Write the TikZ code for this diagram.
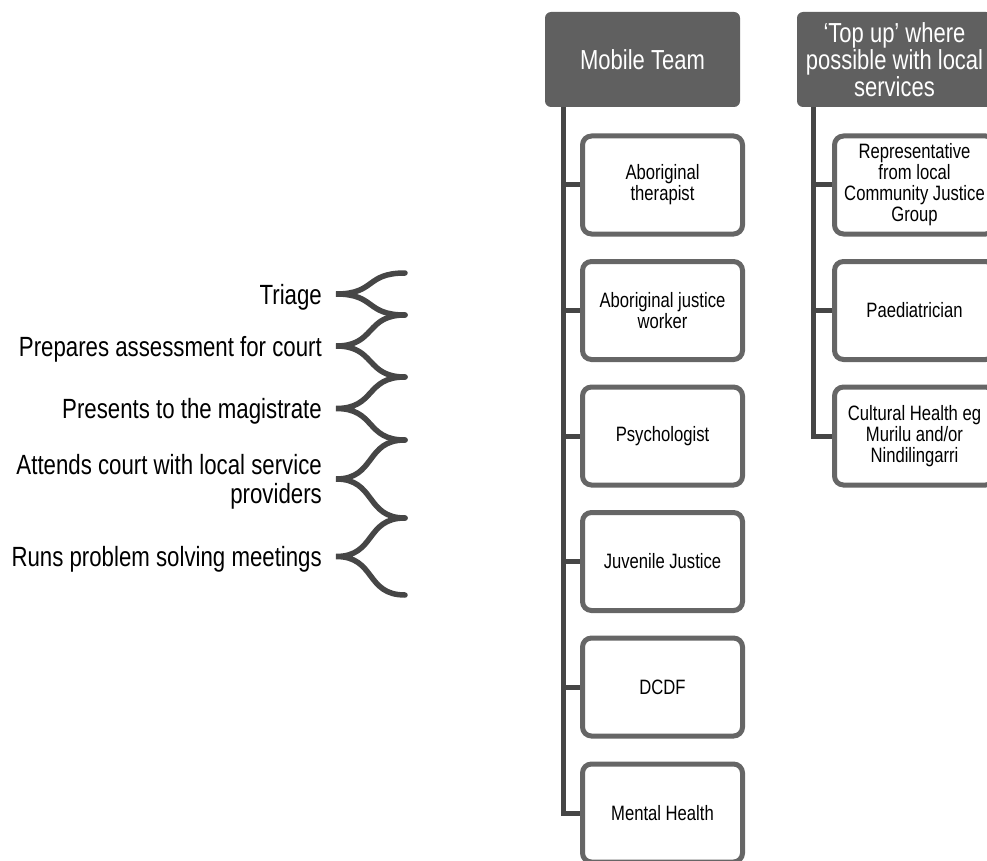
\documentclass[tikz,border=0pt]{standalone}
\usepackage{fontspec}
\setmainfont{Liberation Sans}[FakeStretch=0.8]
\usepackage{tikz}

\definecolor{headgrey}{HTML}{606060}
\definecolor{boxgrey}{HTML}{666666}
\definecolor{linegrey}{HTML}{464646}

\begin{document}
\begin{tikzpicture}[x=1pt,y=-1pt]
            \tikzstyle{head}=[rectangle,rounded corners=6pt,fill=headgrey,text=white,minimum width=195pt,minimum height=95pt,inner sep=0pt,align=center,font=\fontsize{27.5}{27}\selectfont]
            \tikzstyle{member}=[rectangle,rounded corners=9pt,draw=boxgrey,line width=5pt,fill=white,minimum width=160pt,minimum height=98pt,inner sep=0pt,align=center,font=\fontsize{20.8}{21}\selectfont]
            \tikzstyle{role}=[anchor=east,inner sep=0pt,align=right,font=\fontsize{27.8}{29}\selectfont]
            \tikzstyle{trunk}=[draw=linegrey,line width=5pt]
            \tikzstyle{brace}=[draw=linegrey,line width=5.5pt,line cap=round]

            \useasboundingbox (0,0) rectangle (987,861);
            \clip (0,0) rectangle (987,861);

            \node[head] (MT) at (642.5,59.5) {Mobile Team};
            \node[head] (TU) at (894.5,59.5) {‘Top up’ where\\possible with local\\services};

            \foreach \num/\y/\txt in {1/185/{Aboriginal\\therapist}, 2/310.5/{Aboriginal justice\\worker}, 3/436/Psychologist,
                    4/561.5/Juvenile Justice, 5/687/DCDF, 6/813/Mental Health}
                    \node[member] (M-\num) at (662.5,\y) {\txt};
            \foreach \num/\y/\txt in {1/185/{Representative\\from local\\Community Justice\\Group}, 2/310.5/Paediatrician,
                    3/436/{Cultural Health eg\\Murilu and/or\\Nindilingarri}}
                    \node[member] (T-\num) at (914.5,\y) {\txt};

            \coordinate (MT-spine) at ([xshift=-79.5pt]MT.south);
            \coordinate (TU-spine) at ([xshift=-81.5pt]TU.south);
            \foreach \num in {1,...,6}
                \draw[trunk] (MT-spine) |- (M-\num.west);
            \foreach \num in {1,...,3}
                \draw[trunk] (TU-spine) |- (T-\num.west);

            % braces on the left
            \foreach \num/\y in {0/273, 1/315, 2/377, 3/440, 4/518, 5/595}
                    \coordinate (B-\num) at (405,\y);
            \foreach \num/\y in {1/294, 2/346, 3/408.5, 4/479, 5/556.5}
                    \coordinate (P-\num) at (336,\y);
            \foreach \num/\txt in {1/Triage, 2/Prepares assessment for court, 3/Presents to the magistrate,
                    4/{Attends court with local service\\providers}, 5/Runs problem solving meetings}
                    \node[role] (R-\num) at ([xshift=-14pt,yshift=-3pt]P-\num) {\txt};

            \foreach \num/\a/\b in {1/0/1, 2/1/2, 3/2/3, 4/3/4, 5/4/5}
                \draw[brace] (B-\a) .. controls +(-40,0) and +(40,0) .. (P-\num)
                             .. controls +(40,0) and +(-40,0) .. (B-\b);
\end{tikzpicture}
\end{document}
